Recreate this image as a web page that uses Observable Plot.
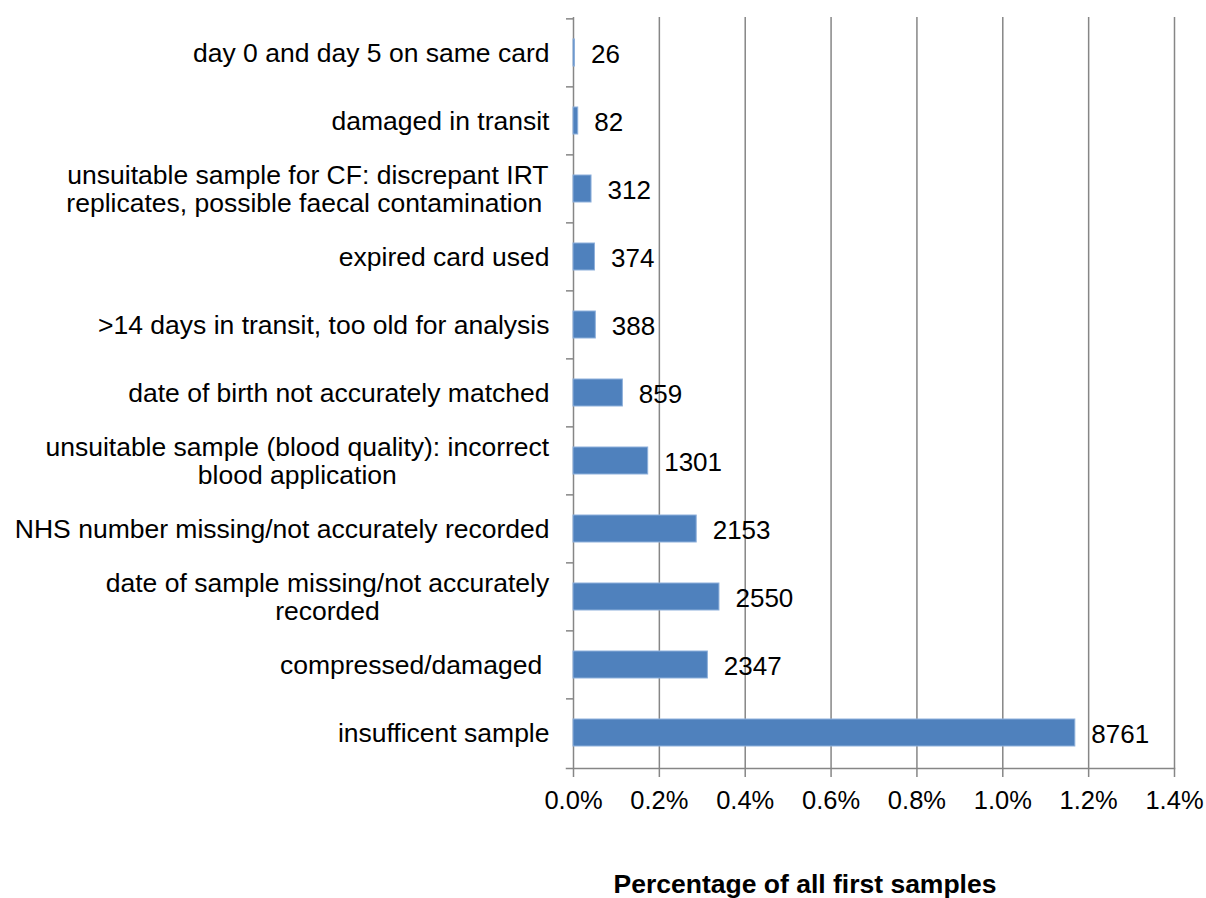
<!DOCTYPE html>
<html><head><meta charset="utf-8">
<script src="https://cdn.jsdelivr.net/npm/d3@7"></script>
<script src="https://cdn.jsdelivr.net/npm/@observablehq/plot@0.6"></script>
<style>
body{margin:0;background:#fff;font-family:"Liberation Sans",Arial,sans-serif;}
#wrap{position:relative;width:1206px;height:898px;}
#xtitle{position:absolute;top:871px;left:805px;transform:translateX(-50%);white-space:nowrap;font-weight:bold;font-size:26.5px;line-height:26.5px;color:#000;}
</style></head><body><div id="wrap"><div id="chart"></div><div id="xtitle">Percentage of all first samples</div></div>
<script>
// categories, top to bottom
const categories = [
  "day 0 and day 5 on same card",
  "damaged in transit",
  "unsuitable sample for CF: discrepant IRT\nreplicates, possible faecal contamination\u00a0",
  "expired card used",
  ">14 days in transit, too old for analysis",
  "date of birth not accurately matched",
  "unsuitable sample (blood quality): incorrect\nblood application",
  "NHS number missing/not accurately recorded",
  "date of sample missing/not accurately\nrecorded",
  "compressed/damaged\u00a0",
  "insufficent sample"
];
const counts = [26, 82, 312, 374, 388, 859, 1301, 2153, 2550, 2347, 8761];
const percents = [0.0035, 0.011, 0.042, 0.050, 0.052, 0.115, 0.174, 0.287, 0.340, 0.313, 1.169];
const xTicks = [0, 0.2, 0.4, 0.6, 0.8, 1.0, 1.2, 1.4];

const data = categories.map((c, i) => ({category: c, pct: percents[i], count: counts[i]}));

const W = 1206, H = 850, mT = 17, mB = 82, mL = 573, mR = 32;
const step = (H - mT - mB) / categories.length;
const axisColor = "#868686";

const chart = Plot.plot({
  width: W, height: H,
  marginTop: mT, marginBottom: mB, marginLeft: mL, marginRight: mR,
  style: {fontFamily: '"Liberation Sans", Arial, sans-serif', fontSize: "24px", color: "#000", background: "#fff"},
  x: {domain: [0, 1.4]},
  y: {domain: categories, paddingInner: 0.61, paddingOuter: 0.305},
  marks: [
    Plot.ruleX(xTicks.slice(1), {stroke: axisColor, strokeWidth: 1.5, insetBottom: -9}),
    Plot.ruleX([0], {stroke: axisColor, strokeWidth: 1.5, insetBottom: -9}),
    Plot.frame({anchor: "bottom", stroke: axisColor, strokeWidth: 1.5, insetLeft: -7}),
    Plot.ruleY(categories, {y: d => d, dy: -step / 2, stroke: axisColor, strokeWidth: 1.5, insetLeft: -7, insetRight: W - mL - mR}),
    Plot.barX(data, {x: "pct", y: "category", fill: "#4F81BD", stroke: "#8EB0DB", strokeWidth: 1}),
    Plot.text(data, {x: "pct", y: "category", text: d => String(d.count), textAnchor: "start", dx: 16, dy: 2, fontSize: 26, fill: "#000"}),
    Plot.axisY({tickSize: 0, tickPadding: 24, fontSize: 26.5, lineHeight: 1.06, label: null}),
    Plot.axisX(xTicks, {tickSize: 0, tickPadding: 22, fontSize: 25.5, tickFormat: d => d.toFixed(1) + "%", label: null})
  ]
});
document.getElementById("chart").appendChild(chart);

// Center the lines of wrapped category labels within their block (block stays right-aligned)
chart.querySelectorAll('g[aria-label="y-axis tick label"] text').forEach(t => {
  const spans = t.querySelectorAll("tspan");
  if (spans.length > 1) {
    const w = t.getBBox().width;
    t.setAttribute("text-anchor", "middle");
    const tr = t.getAttribute("transform") || "";
    t.setAttribute("transform", tr + ` translate(${-w / 2},0)`);
  }
});
</script>
</body></html>
